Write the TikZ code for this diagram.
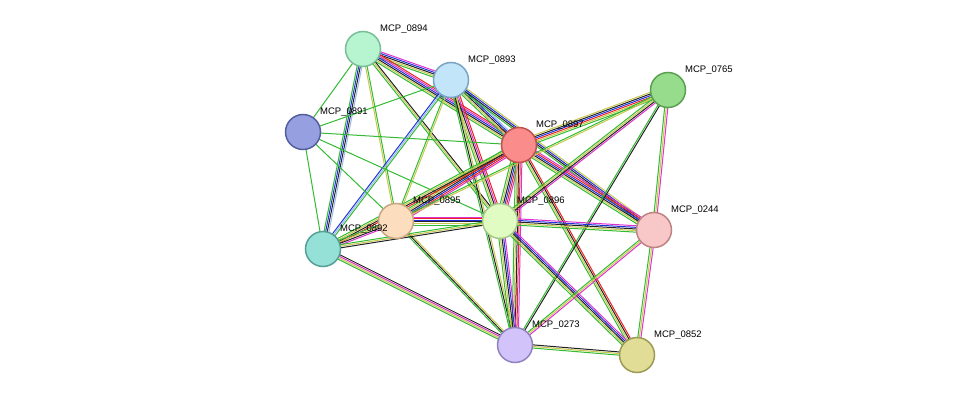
\documentclass[tikz,border=0pt]{standalone}
\usepackage{fontspec}
\setmainfont{Liberation Sans}
\usetikzlibrary{calc}
\definecolor{eg}{HTML}{33BB33}
\definecolor{ey}{HTML}{C8C850}
\definecolor{ek}{HTML}{222222}
\definecolor{eb}{HTML}{2233DD}
\definecolor{er}{HTML}{EE2222}
\definecolor{em}{HTML}{DD33CC}
\definecolor{el}{HTML}{99BBEE}
\newcommand{\E}[3]{%
  \foreach \c [count=\i] in {#3} {\xdef\nn{\i}}%
  \foreach \c [count=\i] in {#3} {
    \pgfmathsetmacro\off{(\i-(\nn+1)/2)*1.6}
    \draw[\c,line width=1pt] ($(#1)!\off pt!90:(#2)$) -- ($(#2)!\off pt!-90:(#1)$);
  }}
\begin{document}
\begin{tikzpicture}[x=1pt,y=-1pt,
  nd/.style={circle,draw,line width=1.5pt,minimum size=35pt,inner sep=0pt},
  lb/.style={font=\fontsize{9.5}{11}\selectfont,anchor=south west,inner sep=1pt}]
\useasboundingbox (0,0) rectangle (975,401);
\coordinate (a94) at (363,49);
\coordinate (a93) at (451,80);
\coordinate (a65) at (668,90);
\coordinate (a91) at (303,132);
\coordinate (a97) at (519,145);
\coordinate (a95) at (396,221);
\coordinate (a96) at (500,221);
\coordinate (a44) at (654,230);
\coordinate (a92) at (323,249);
\coordinate (a73) at (515,345);
\coordinate (a52) at (637,355);
% edges
\E{a94}{a93}{eg,ey,ek,eb,em}
\E{a94}{a97}{eg,ey,ek,eb,em,er}
\E{a94}{a91}{eg}
\E{a94}{a92}{eg,eb,ek,el}
\E{a94}{a95}{ey,eg}
\E{a94}{a96}{eg,ey,ek}
\E{a93}{a91}{eg}
\E{a93}{a97}{eg,ey,ek,eb,el}
\E{a93}{a92}{eb,el,eg}
\E{a93}{a95}{eg,ey}
\E{a93}{a96}{eg,ey,ek,em,er}
\E{a93}{a73}{eg,ek,ey}
\E{a93}{a44}{eg,ek,eb,ey}
\E{a91}{a97}{eg}
\E{a91}{a92}{eg}
\E{a91}{a95}{eg}
\E{a91}{a96}{eg}
\E{a97}{a65}{eg,ey,er,eb,ek,ey}
\E{a97}{a95}{eg,ey,ek,eb,er,em}
\E{a97}{a96}{eg,ey,ek,eb,er,em}
\E{a97}{a44}{eg,ey,ek,eb,er,em}
\E{a97}{a92}{eg,ey,ek,er}
\E{a97}{a73}{eg,ey,ek,er,em}
\E{a97}{a52}{eg,ey,ek,er}
\E{a65}{a96}{eg,ey,ek,em}
\E{a65}{a44}{eg,ey,em}
\E{a65}{a73}{eg,ek}
\E{a65}{a95}{eg,ey}
\E{a95}{a96}{eg,ey,ek,eb,er,em}
\E{a95}{a92}{eg,ey,ek,em}
\E{a95}{a73}{eg,ek,ey}
\E{a96}{a44}{eg,ey,ek,eb,em}
\E{a96}{a73}{eg,ey,ek,eb,em}
\E{a96}{a52}{eg,ey,ek,eb,em}
\E{a96}{a92}{eg,ey,ek}
\E{a44}{a73}{eg,ey,em}
\E{a44}{a52}{eg,ey,em}
\E{a73}{a52}{eg,ey,ek}
\E{a92}{a73}{eg,ey,em,ek}
% nodes
\node[nd,fill={rgb,255:red,183;green,245;blue,209},draw={rgb,255:red,120;green,190;blue,150}] (n94) at (a94) {};
\node[nd,fill={rgb,255:red,195;green,229;blue,250},draw={rgb,255:red,120;green,165;blue,195}] (n93) at (a93) {};
\node[nd,fill={rgb,255:red,150;green,220;blue,140},draw={rgb,255:red,90;green,160;blue,80}] (n65) at (a65) {};
\node[nd,fill={rgb,255:red,150;green,160;blue,225},draw={rgb,255:red,85;green,95;blue,160}] (n91) at (a91) {};
\node[nd,fill={rgb,255:red,250;green,140;blue,140},draw={rgb,255:red,190;green,80;blue,80}] (n97) at (a97) {};
\node[nd,fill={rgb,255:red,252;green,222;blue,190},draw={rgb,255:red,200;green,165;blue,130}] (n95) at (a95) {};
\node[nd,fill={rgb,255:red,225;green,252;blue,195},draw={rgb,255:red,165;green,200;blue,135}] (n96) at (a96) {};
\node[nd,fill={rgb,255:red,248;green,200;blue,200},draw={rgb,255:red,190;green,130;blue,130}] (n44) at (a44) {};
\node[nd,fill={rgb,255:red,150;green,225;blue,215},draw={rgb,255:red,85;green,160;blue,150}] (n92) at (a92) {};
\node[nd,fill={rgb,255:red,210;green,195;blue,250},draw={rgb,255:red,145;green,130;blue,190}] (n73) at (a73) {};
\node[nd,fill={rgb,255:red,225;green,220;blue,150},draw={rgb,255:red,155;green,155;blue,85}] (n52) at (a52) {};
% labels
\node[lb] (l94) at (379,35) {MCP\_0894};
\node[lb] (l93) at (467,66) {MCP\_0893};
\node[lb] (l65) at (684,76) {MCP\_0765};
\node[lb] (l91) at (319,118) {MCP\_0891};
\node[lb] (l97) at (535,131) {MCP\_0897};
\node[lb] (l95) at (412,207) {MCP\_0895};
\node[lb] (l96) at (516,207) {MCP\_0896};
\node[lb] (l44) at (670,216) {MCP\_0244};
\node[lb] (l92) at (339,235) {MCP\_0892};
\node[lb] (l73) at (531,331) {MCP\_0273};
\node[lb] (l52) at (653,341) {MCP\_0852};
\end{tikzpicture}
\end{document}
